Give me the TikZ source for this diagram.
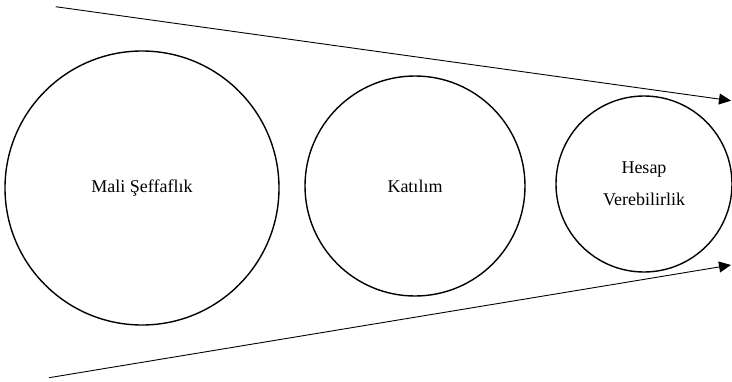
\documentclass[tikz,border=0pt]{standalone}
\usepackage{fontspec}
\setmainfont{Liberation Serif}
\usetikzlibrary{arrows.meta}
\begin{document}
\begin{tikzpicture}[x=1pt,y=-1pt,
  bubble/.style={circle,draw,line width=1.4pt,inner sep=0pt,align=center,
    font=\fontsize{18}{32}\selectfont},
  funnel/.style={line width=0.9pt,-{Triangle[length=12pt,width=11pt]}}]
\useasboundingbox (0,0) rectangle (732,381);
\node[bubble,minimum size=274pt] (c1) at (142,188) {Mali Şeffaflık};
\node[bubble,minimum size=220pt] (c2) at (415,186) {Katılım};
\node[bubble,minimum size=176pt] (c3) at (644,184) {Hesap\\Verebilirlik};
\coordinate (t1) at (55.7,6.7);
\coordinate (t2) at (731,100.7);
\coordinate (b1) at (49,377.7);
\coordinate (b2) at (731,265);
\draw[funnel] (t1) -- (t2);
\draw[funnel] (b1) -- (b2);
\end{tikzpicture}
\end{document}
